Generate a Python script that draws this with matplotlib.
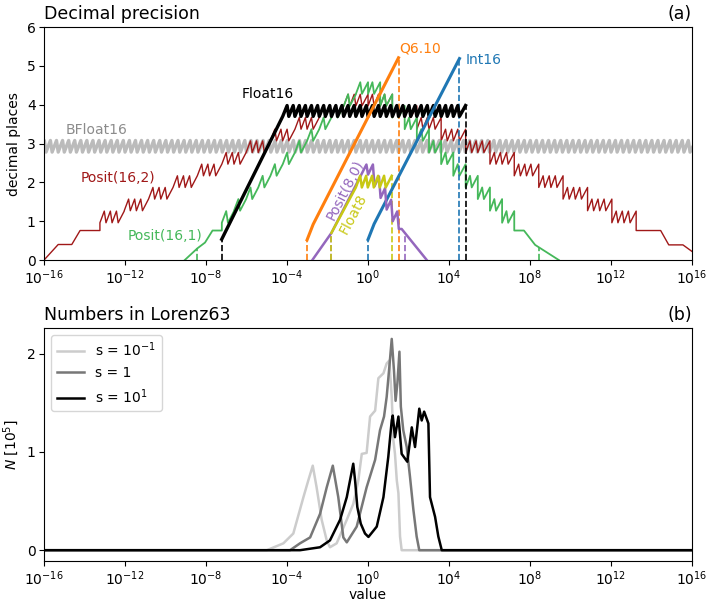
import numpy as np
import matplotlib.pyplot as plt
from matplotlib.ticker import NullLocator

# every x below is log10(value)

# --- panel (a): decimal precision ---
# sawtooth runs: start, end, low, high, number of teeth
bf16_run = [-16.2, 16.2, 2.78, 3.08, 108]
f16_ramp_x = [-7.225, -4.214]
f16_ramp_y = [0.535, 3.70]
f16_run = [-4.214, 4.816, 3.70, 3.98, 30]
f8_ramp_x = [-1.806, -0.602]
f8_ramp_y = [0.70, 1.87]
f8_run = [-0.602, 1.17, 1.87, 2.17, 6]

int16_x = [0.0, 0.3, 4.515]
int16_y = [0.53, 0.93, 5.19]
q610_x = [-3.01, -2.71, 1.505]
q610_y = [0.52, 0.92, 5.21]

p80_x = [-2.75, -1.806, -0.08, 0.0, 0.24, 0.32, 0.54, 0.62, 0.84, 0.92, 1.14,
         1.22, 1.44, 1.52, 1.66, 2.90]
p80_y = [0.0, 0.70, 2.46, 2.20, 2.46, 1.90, 2.15, 1.60, 1.85, 1.30, 1.55,
         1.00, 1.25, 0.80, 0.80, 0.0]

# posits: regime edges and the lower level in each regime (teeth rise 0.30)
p161_edges = [-7.22, -6.62, -6.02, -5.42, -4.82, -4.21, -3.61, -3.01, -2.41, -1.81,
              -1.20, -0.60, 0.0, 0.60, 1.20, 1.81, 2.41, 3.01, 3.61, 4.21, 4.82,
              5.42, 6.02, 6.62, 7.22]
p161_low = [0.96, 1.27, 1.57, 1.87, 2.17, 2.47, 2.77, 3.07, 3.37, 3.67, 3.97, 4.28,
            4.28, 3.97, 3.67, 3.37, 3.07, 2.77, 2.47, 2.17, 1.87, 1.57, 1.27, 0.96]
p161_left_x = [-9.05, -8.43, -8.05, -7.68, -7.22]
p161_left_y = [0.0, 0.30, 0.45, 0.76, 0.76]
p161_right_x = [7.22, 7.70, 8.25, 8.43, 9.42]
p161_right_y = [0.76, 0.76, 0.39, 0.33, 0.0]

p162_edges = [-13.24, -12.04, -10.84, -9.63, -8.43, -7.22, -6.02, -4.82, -3.61, -2.41,
              -1.20, 0.0, 1.20, 2.41, 3.61, 4.82, 6.02, 7.22, 8.43, 9.63, 10.84,
              12.04, 13.24]
p162_low = [0.96, 1.27, 1.57, 1.87, 2.17, 2.47, 2.77, 3.07, 3.37, 3.67, 3.97,
            3.97, 3.67, 3.37, 3.07, 2.77, 2.47, 2.17, 1.87, 1.57, 1.27, 0.96]
p162_left_x = [-16.0, -15.3, -14.63, -14.22, -13.24]
p162_left_y = [0.0, 0.40, 0.40, 0.76, 0.76]
p162_right_x = [13.24, 14.45, 14.85, 15.55, 16.0, 16.2]
p162_right_y = [0.76, 0.76, 0.39, 0.39, 0.22, 0.15]

# --- panel (b): numbers in Lorenz63 (histograms, N in 1e5) ---
s01_x = [-16, -5.0, -4.18, -3.69, -3.19, -2.95, -2.73, -2.54, -2.29, -2.04, -1.88,
         -1.55, -1.05, -0.73, -0.48, -0.31, -0.07, 0.10, 0.35, 0.51, 0.76, 0.92,
         1.05, 1.17, 1.25, 1.33, 1.42, 1.50, 1.58, 1.66, 16]
s01_y = [0, 0, 0.07, 0.17, 0.54, 0.71, 0.86, 0.64, 0.31, 0.10, 0.03, 0.07, 0.31,
         0.47, 0.71, 0.98, 0.99, 1.36, 1.42, 1.75, 1.80, 1.90, 1.93, 1.56, 1.12,
         0.98, 0.71, 0.58, 0.14, 0, 0]
s1_x = [-16, -3.85, -3.36, -2.86, -2.37, -2.04, -1.74, -1.47, -1.22, -1.05, -0.56,
        -0.07, 0.35, 0.59, 0.79, 0.92, 1.05, 1.17, 1.28, 1.36, 1.45, 1.55, 1.62,
        1.74, 1.91, 2.07, 2.24, 2.40, 2.53, 16]
s1_y = [0, 0, 0.07, 0.13, 0.37, 0.64, 0.86, 0.54, 0.13, 0.08, 0.24, 0.64, 0.92,
        1.22, 1.36, 1.56, 1.86, 2.15, 1.83, 1.52, 1.70, 2.02, 1.46, 1.22, 1.05,
        0.75, 0.41, 0.14, 0, 0]
s10_x = [-16, -3.36, -2.37, -1.88, -1.38, -1.05, -0.73, -0.64, -0.53, -0.36, -0.15,
         0.02, 0.43, 0.76, 1.00, 1.17, 1.22, 1.33, 1.50, 1.66, 1.94, 2.16, 2.32,
         2.53, 2.65, 2.77, 2.98, 3.06, 3.31, 3.47, 3.64, 16]
s10_y = [0, 0, 0.03, 0.10, 0.31, 0.54, 0.88, 0.71, 0.44, 0.27, 0.17, 0.135, 0.24,
         0.54, 0.95, 1.32, 1.37, 1.15, 1.36, 0.98, 0.90, 1.25, 1.05, 1.44, 1.32,
         1.41, 1.29, 0.54, 0.34, 0.14, 0, 0]


def saw(x0, x1, low, high, n, rise=0.72):
    w = (x1 - x0) / n
    xs, ys = [x0], [low]
    for i in range(n):
        if i == n - 1:
            xs.append(x1)
            ys.append(high)
        else:
            xs += [x0 + (i + rise) * w, x0 + (i + 1) * w]
            ys += [high, low]
    return xs, ys


def posit_curve(lx, ly, edges, lows, teeth, rx, ry):
    xs, ys = list(lx), list(ly)
    for a, b, lo in zip(edges[:-1], edges[1:], lows):
        sx, sy = saw(a, b, lo, lo + 0.30, teeth)
        xs += sx
        ys += sy
    xs += rx
    ys += ry
    return np.array(xs), np.array(ys)


bf16 = saw(*bf16_run)
f16 = saw(*f16_run)
f16 = (f16_ramp_x + f16[0], f16_ramp_y + f16[1])
f8 = saw(*f8_run)
f8 = (f8_ramp_x + f8[0], f8_ramp_y + f8[1])
p161 = posit_curve(p161_left_x, p161_left_y, p161_edges, p161_low, 2, p161_right_x, p161_right_y)
p162 = posit_curve(p162_left_x, p162_left_y, p162_edges, p162_low, 4, p162_right_x, p162_right_y)

c_bf16 = '#bbbbbb'
c_red = '#a01818'
c_green = '#45b85a'
c_orange = '#ff7f0e'
c_blue = '#1f77b4'
c_purple = '#9467bd'
c_yellow = '#c8c814'

fig = plt.figure(figsize=(7.09, 6.05), dpi=100)
ax1 = fig.add_axes([0.0621, 0.5702, 0.914, 0.385])
ax2 = fig.add_axes([0.0621, 0.0727, 0.914, 0.385])

ax1.plot(10**np.array(bf16[0]), bf16[1], color=c_bf16, lw=2.4, zorder=1)
ax1.plot(10**p162[0], p162[1], color=c_red, lw=1.0, zorder=2)
ax1.plot(10**p161[0], p161[1], color=c_green, lw=1.3, zorder=2)
ax1.plot(10**np.array(f16[0]), f16[1], color='black', lw=2.4, zorder=3)
ax1.plot(10**np.array(q610_x), q610_y, color=c_orange, lw=2.2, zorder=4)
ax1.plot(10**np.array(int16_x), int16_y, color=c_blue, lw=2.2, zorder=4)
ax1.plot(10**np.array(p80_x), p80_y, color=c_purple, lw=1.8, zorder=4)
ax1.plot(10**np.array(f8[0]), f8[1], color=c_yellow, lw=1.8, zorder=5)

# dashed markers at the smallest / largest representable numbers
ends = [(-7.225, f16, 'black'), (4.816, f16, 'black'),
        (-3.01, (q610_x, q610_y), c_orange), (1.505, (q610_x, q610_y), c_orange),
        (0.0, (int16_x, int16_y), c_blue), (4.515, (int16_x, int16_y), c_blue),
        (-1.806, (p80_x, p80_y), c_purple), (1.806, (p80_x, p80_y), c_purple),
        (-1.806, f8, c_yellow), (1.17, f8, c_yellow),
        (-8.43, p161, c_green), (8.43, p161, c_green)]
for xe, cur, col in ends:
    top = np.interp(xe, cur[0], cur[1])
    ax1.plot([10**xe, 10**xe], [0, top], '--', color=col, lw=1.2, zorder=2)

ax1.text(10**-13.42, 3.34, 'BFloat16', color='#8c8c8c', fontsize=10, ha='center', va='center')
ax1.text(10**-12.36, 2.12, 'Posit(16,2)', color=c_red, fontsize=10, ha='center', va='center')
ax1.text(10**-10.03, 0.62, 'Posit(16,1)', color=c_green, fontsize=10, ha='center', va='center')
ax1.text(10**-4.95, 4.28, 'Float16', color='black', fontsize=10, ha='center', va='center')
ax1.text(10**2.55, 5.46, 'Q6.10', color=c_orange, fontsize=10, ha='center', va='center')
ax1.text(10**5.72, 5.15, 'Int16', color=c_blue, fontsize=10, ha='center', va='center')
ax1.text(10**-1.14, 1.81, 'Posit(8,0)', color=c_purple, fontsize=10, ha='center', va='center',
         rotation=63, rotation_mode='anchor')
ax1.text(10**-0.73, 1.19, 'Float8', color=c_yellow, fontsize=10, ha='center', va='center',
         rotation=62, rotation_mode='anchor')

ax2.plot(10**np.array(s01_x), s01_y, color='#cccccc', lw=1.8, label='s = 10$^{-1}$')
ax2.plot(10**np.array(s1_x), s1_y, color='#777777', lw=1.8, label='s = 1')
ax2.plot(10**np.array(s10_x), s10_y, color='black', lw=1.8, label='s = 10$^{1}$')
ax2.legend(loc='upper left', fontsize=10)

xt = [10.0**k for k in range(-16, 17, 4)]
for ax in (ax1, ax2):
    ax.set_xscale('log')
    ax.set_xlim(1e-16, 1e16)
    ax.set_xticks(xt)
    ax.xaxis.set_minor_locator(NullLocator())
    ax.tick_params(labelsize=10, pad=2.5)

ax1.set_ylim(0, 6)
ax1.set_yticks([0, 1, 2, 3, 4, 5, 6])
ax1.set_ylabel('decimal places', fontsize=10)
ax1.set_title('Decimal precision', loc='left', fontsize=12.5)
ax1.set_title('(a)', loc='right', fontsize=12.5)

ax2.set_ylim(-0.11, 2.26)
ax2.set_yticks([0, 1, 2])
ax2.set_ylabel('$N$ [10$^5$]', fontsize=10)
ax2.set_xlabel('value', fontsize=10, labelpad=0)
ax2.set_title('Numbers in Lorenz63', loc='left', fontsize=12.5)
ax2.set_title('(b)', loc='right', fontsize=12.5)

fig.savefig('out.png', dpi=100)
